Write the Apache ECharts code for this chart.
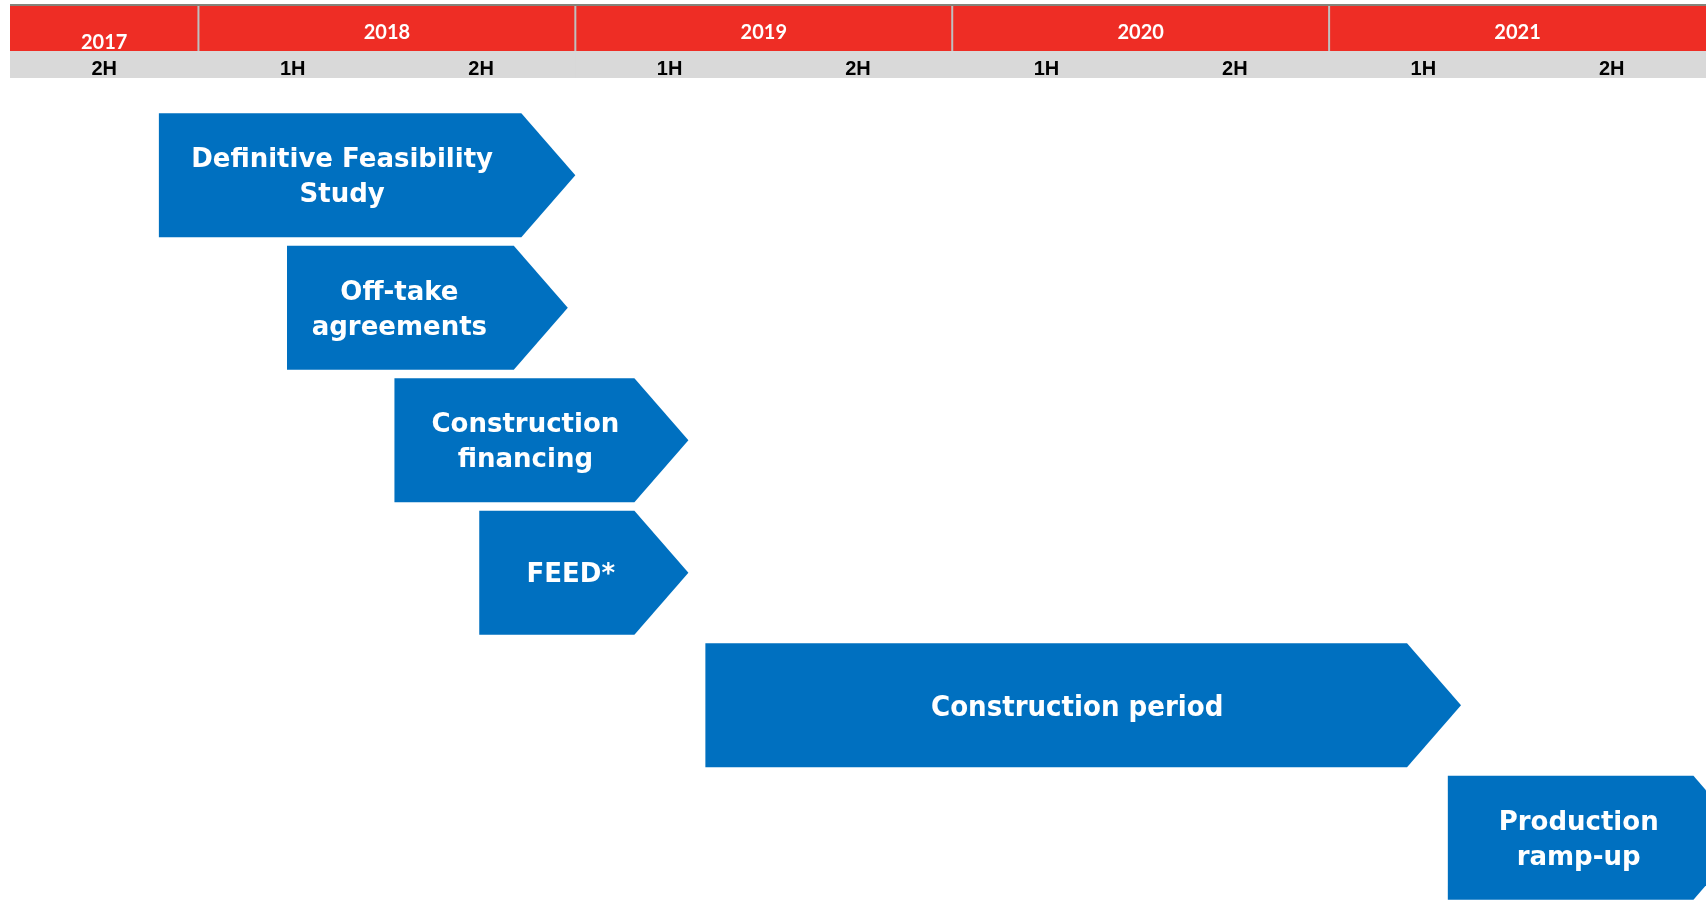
<!DOCTYPE html>
<html>
<head>
<meta charset="utf-8">
<script src="https://cdn.jsdelivr.net/npm/echarts@6/dist/echarts.min.js"></script>
<style>
  html, body { margin: 0; padding: 0; background: #fff; }
  #chart { width: 1706px; height: 900px; }
</style>
</head>
<body>
<div id="chart"></div>
<script>
// time runs in decimal years, from 2017 2H to end of 2021
var years = ['2017', '2018', '2019', '2020', '2021'];
var yearStart = [2017.5, 2018, 2019, 2020, 2021];
var yearEnd = [2018, 2019, 2020, 2021, 2022];

var halves = ['2H', '1H', '2H', '1H', '2H', '1H', '2H', '1H', '2H'];
var halfStart = [2017.5, 2018, 2018.5, 2019, 2019.5, 2020, 2020.5, 2021, 2021.5];

var tasks = [
  'Definitive Feasibility\nStudy',
  'Off-take\nagreements',
  'Construction\nfinancing',
  'FEED*',
  'Construction period',
  'Production\nramp-up'
];
// start of the box and point of the arrow
var taskStart = [2017.895, 2018.235, 2018.52, 2018.745, 2019.345, 2021.315];
var taskEnd = [2019.0, 2018.98, 2019.3, 2019.3, 2021.35, 2022.11];

// label nudges (px) and fonts, as laid out on the slide
var labelShift = [2, -1, 11, 14, 21, 8];
var labelFont = [
  'bold 26px "DejaVu Sans"',
  'bold 26px "DejaVu Sans"',
  'bold 26px "DejaVu Sans"',
  'bold 26px "DejaVu Sans"',
  'bold 29px "DejaVu Sans Condensed", "DejaVu Sans"',
  'bold 26px "DejaVu Sans"'
];

var chart = echarts.init(document.getElementById('chart'));

var TIP = 54;
var RED_H = 45;

function renderYear(params, api) {
  var cs = params.coordSys;
  var x0 = api.coord([api.value(0), 0])[0];
  var x1 = api.coord([api.value(1), 0])[0];
  var i = params.dataIndex;
  var children = [{
    type: 'rect',
    shape: { x: x0, y: cs.y, width: x1 - x0, height: RED_H },
    style: { fill: '#EE2D25' }
  }, {
    type: 'text',
    x: (x0 + x1) / 2,
    y: cs.y + (i === 0 ? 37 : 27),
    style: {
      text: years[i],
      fill: '#fff',
      font: 'bold 20px Lato',
      align: 'center',
      verticalAlign: 'middle'
    }
  }];
  if (i > 0) {
    children.push({
      type: 'line',
      shape: { x1: x0, y1: cs.y, x2: x0, y2: cs.y + RED_H },
      style: { stroke: '#BFBFBF', lineWidth: 2 }
    });
  }
  return { type: 'group', children: children };
}

function renderHalf(params, api) {
  var cs = params.coordSys;
  var x0 = api.coord([api.value(0), 0])[0];
  var x1 = api.coord([api.value(0) + 0.5, 0])[0];
  return {
    type: 'group',
    children: [{
      type: 'rect',
      shape: { x: x0, y: cs.y + RED_H, width: x1 - x0 + 1, height: cs.height - RED_H },
      style: { fill: '#D9D9D9' }
    }, {
      type: 'text',
      x: (x0 + x1) / 2,
      y: cs.y + RED_H + 18,
      style: {
        text: halves[params.dataIndex],
        fill: '#000',
        font: 'bold 20px "Liberation Sans"',
        align: 'center',
        verticalAlign: 'middle'
      }
    }]
  };
}

function renderTopLine(params, api) {
  var cs = params.coordSys;
  return {
    type: 'line',
    shape: { x1: cs.x, y1: cs.y - 1, x2: cs.x + cs.width, y2: cs.y - 1 },
    style: { stroke: '#5B5B4E', lineWidth: 1.5 }
  };
}

function renderTask(params, api) {
  var i = params.dataIndex;
  var row = api.value(0);
  var p0 = api.coord([api.value(1), row]);
  var p1 = api.coord([api.value(2), row]);
  var h = Math.abs(api.size([0, 1])[1]) * 0.935;
  var top = p0[1] - h / 2;
  var bot = p0[1] + h / 2;
  var bodyEnd = p1[0] - TIP;
  return {
    type: 'group',
    children: [{
      type: 'polygon',
      shape: { points: [[p0[0], top], [bodyEnd, top], [p1[0], p0[1]], [bodyEnd, bot], [p0[0], bot]] },
      style: { fill: '#0070C0' }
    }, {
      type: 'text',
      x: (p0[0] + bodyEnd) / 2 + labelShift[i],
      y: p0[1] + 3,
      style: {
        text: tasks[i],
        fill: '#fff',
        font: labelFont[i],
        lineHeight: 35,
        align: 'center',
        verticalAlign: 'middle'
      }
    }]
  };
}

var option = {
  backgroundColor: '#fff',
  animation: false,
  grid: [
    { left: 10, right: 0, top: 6, height: 72 },
    { left: 10, right: 0, top: 109, bottom: 0 }
  ],
  xAxis: [
    { type: 'value', gridIndex: 0, min: 2017.5, max: 2022, show: false },
    { type: 'value', gridIndex: 1, min: 2017.5, max: 2022, show: false }
  ],
  yAxis: [
    { type: 'value', gridIndex: 0, min: 0, max: 1, show: false },
    // one unit per task row; the last row runs off the bottom of the slide
    { type: 'value', gridIndex: 1, inverse: true, min: -0.5, max: 5.47, show: false }
  ],
  series: [
    {
      type: 'custom',
      xAxisIndex: 0, yAxisIndex: 0,
      renderItem: renderHalf,
      encode: { x: 0 },
      data: halfStart.map(function (s) { return [s]; })
    },
    {
      type: 'custom',
      xAxisIndex: 0, yAxisIndex: 0,
      renderItem: renderYear,
      encode: { x: [0, 1] },
      data: years.map(function (y, i) { return [yearStart[i], yearEnd[i]]; })
    },
    {
      type: 'custom',
      xAxisIndex: 0, yAxisIndex: 0,
      renderItem: renderTopLine,
      encode: { x: 0 },
      data: [[2017.5]]
    },
    {
      type: 'custom',
      xAxisIndex: 1, yAxisIndex: 1,
      renderItem: renderTask,
      encode: { x: [1, 2], y: 0 },
      data: tasks.map(function (t, i) { return [i, taskStart[i], taskEnd[i]]; })
    }
  ]
};

chart.setOption(option);
</script>
</body>
</html>
